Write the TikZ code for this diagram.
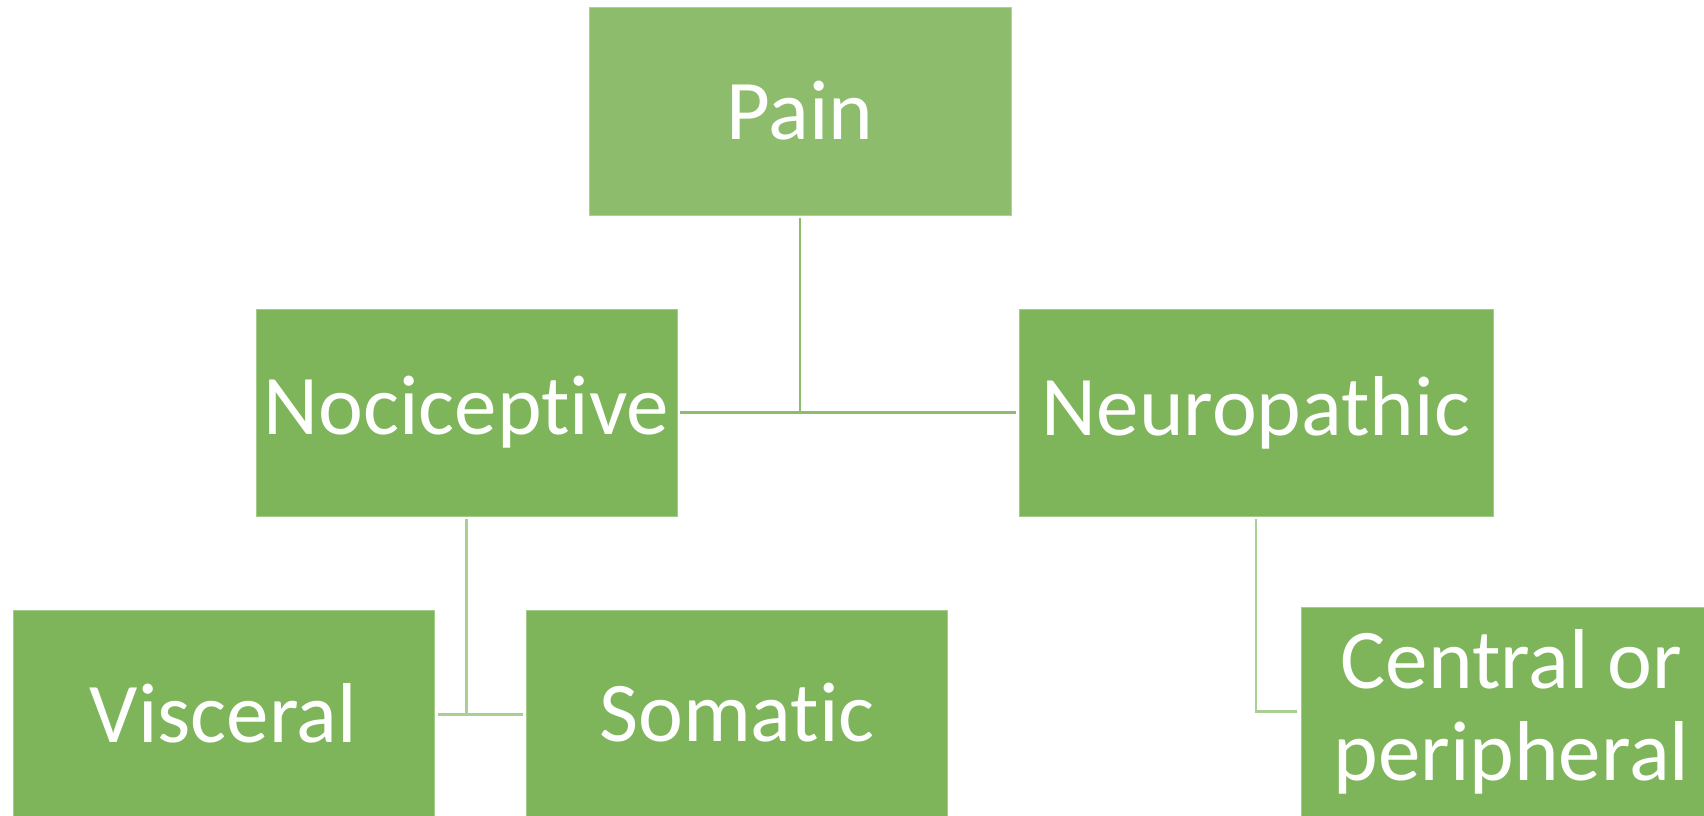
\documentclass[tikz,border=0pt]{standalone}
\usepackage{fontspec}
\setmainfont[Ligatures={NoCommon,NoContextual}, RawFeature={-liga;-dlig;-clig}]{Carlito}
\definecolor{toplevel}{HTML}{8DBD6C}
\definecolor{boxgreen}{HTML}{7FB55A}
\definecolor{linkdark}{HTML}{8DBD6C}
\definecolor{linklight}{HTML}{A9CF92}
\tikzset{
  catbox/.style={rectangle, fill=boxgreen, draw=boxgreen!70!white, line width=0.8pt,
    minimum width=421pt, minimum height=208pt, inner sep=0pt,
    text=white, font=\fontsize{85}{92}\selectfont, align=center},
  link/.style={line width=2.4pt, draw=linklight},
}
\newcommand{\lifted}[1]{\raisebox{4pt}{#1}}
\begin{document}
\begin{tikzpicture}[x=1pt, y=-1pt]
\clip (0,0) rectangle (1704,815);
\useasboundingbox (0,0) rectangle (1704,815);

% hierarchy of boxes
\node[catbox, fill=toplevel, draw=toplevel!70!white, minimum width=422pt] (pain) at (800,111) {Pain};
\node[catbox, minimum height=207pt] (noci) at (466.5,412.5) {\raisebox{-2pt}{Nociceptive}};
\node[catbox, minimum width=474pt, minimum height=207pt] (neuro) at (1256,412.5) {\raisebox{-2pt}{Neuropathic}};
\node[catbox, minimum height=209pt] (visc) at (223.5,714.5) {\lifted{Visceral}};
\node[catbox, minimum height=209pt] (soma) at (737,714.5) {\lifted{Somatic}};
\node[catbox, minimum height=209pt] (cent) at (1511.5,711.5) {Central or\\peripheral};

% connectors
\coordinate (j1) at (pain.south |- noci.east);
\draw[link, draw=linkdark, shorten <=3pt] (pain.south) -- (j1);
\draw[link, draw=linkdark, shorten <=3pt, shorten >=3pt] (noci.east) -- (neuro.west);

\coordinate (j2) at (noci.south |- visc.east);
\draw[link, shorten <=3pt] (noci.south) -- (j2);
\draw[link, shorten <=4pt, shorten >=3pt] (visc.east) -- (soma.west);

\coordinate (j3) at (neuro.south |- cent.west);
\draw[link, shorten <=3pt, shorten >=4pt] (neuro.south) -- (j3) -- (cent.west);
\end{tikzpicture}
\end{document}
